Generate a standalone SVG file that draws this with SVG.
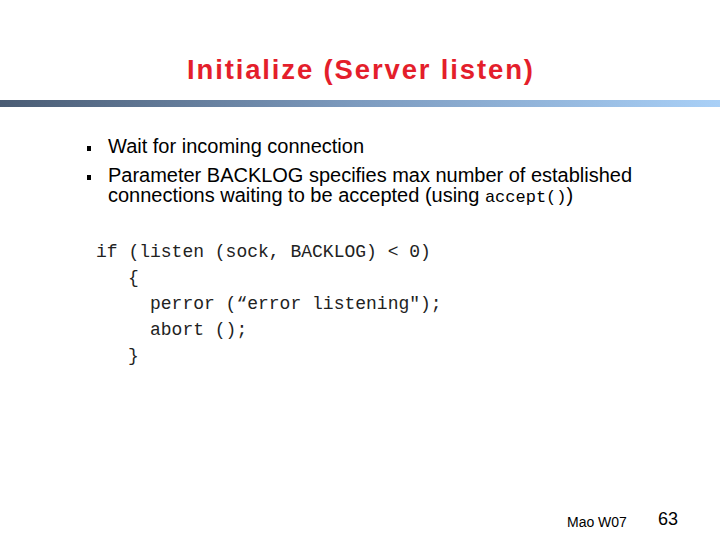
<svg xmlns="http://www.w3.org/2000/svg" width="720" height="540" viewBox="0 0 720 540">
<defs><linearGradient id="g" x1="0" x2="1"><stop offset="0" stop-color="#4a5c74"/><stop offset="0.5" stop-color="#7d9bbf"/><stop offset="1" stop-color="#a9d0f7"/></linearGradient>
<style>.t{font-family:"Liberation Sans",Arial,sans-serif;font-size:20px;fill:#000}.m{font-family:"Liberation Mono","Courier New",monospace;font-size:18px;fill:#222}</style></defs>
<rect width="720" height="540" fill="#fff"/>
<text x="360" y="79" text-anchor="middle" font-family="Liberation Sans,Arial,sans-serif" font-weight="bold" font-size="27.5" fill="#e41e2b" textLength="346">Initialize (Server listen)</text>
<rect x="0" y="100" width="720" height="7" fill="url(#g)"/>
<rect x="87" y="146" width="4" height="5" fill="#000"/>
<rect x="87" y="175" width="4" height="5" fill="#000"/>
<text class="t" x="108" y="153">Wait for incoming connection</text>
<text class="t" x="108" y="182" textLength="524">Parameter BACKLOG specifies max number of established</text>
<text class="t" x="108" y="202">connections waiting to be accepted (using <tspan font-family="Liberation Mono,monospace" font-size="17">accept()</tspan>)</text>
<text class="m" x="96" y="257">if (listen (sock, BACKLOG) &lt; 0)</text>
<text class="m" x="128" y="283">{</text>
<text class="m" x="150" y="309">perror (“error listening");</text>
<text class="m" x="150" y="335">abort ();</text>
<text class="m" x="128" y="361">}</text>
<text x="567" y="527" font-family="Liberation Sans,Arial,sans-serif" font-size="14">Mao W07</text>
<text x="658" y="525" font-family="Liberation Sans,Arial,sans-serif" font-size="18">63</text>
</svg>
